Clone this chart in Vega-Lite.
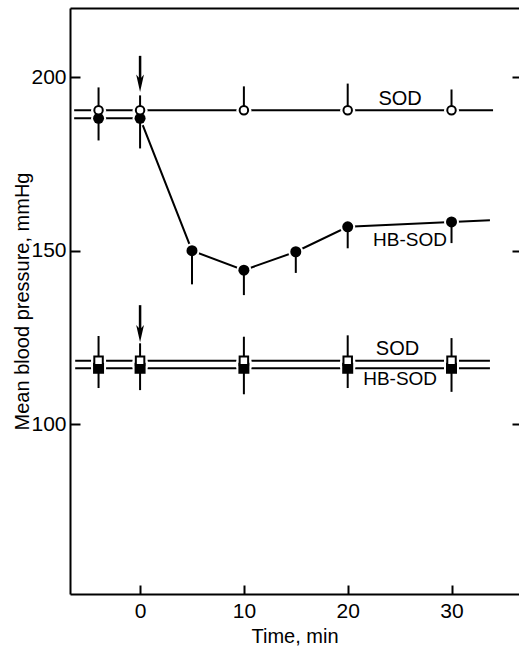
{
  "$schema": "https://vega.github.io/schema/vega-lite/v6.json",
  "autosize": {"type": "none"},
  "padding": {"left": 70, "top": 8, "right": 0, "bottom": 54},
  "width": 449,
  "height": 586,
  "config": {
    "view": {"stroke": null},
    "font": "Liberation Sans",
    "axis": {"grid": false, "domainColor": "black", "tickColor": "black", "labelColor": "black", "titleColor": "black", "domainWidth": 2, "tickWidth": 2}
  },
  "datasets": {
    "pts": [
      {"g": "upper", "a": "SOD", "t": -4, "y": 190.5, "e": 197.1},
      {"g": "upper", "a": "SOD", "t": 0, "y": 190.5, "e": 194.8},
      {"g": "upper", "a": "SOD", "t": 10, "y": 190.5, "e": 197.4},
      {"g": "upper", "a": "SOD", "t": 20, "y": 190.5, "e": 198.2},
      {"g": "upper", "a": "SOD", "t": 30, "y": 190.5, "e": 196.5},
      {"g": "upper", "a": "HB-SOD", "t": -4, "y": 188.2, "e": 181.8},
      {"g": "upper", "a": "HB-SOD", "t": 0, "y": 188.2, "e": 179.5},
      {"g": "upper", "a": "HB-SOD", "t": 5, "y": 150, "e": 140.3},
      {"g": "upper", "a": "HB-SOD", "t": 10, "y": 144.4, "e": 137.2},
      {"g": "upper", "a": "HB-SOD", "t": 15, "y": 149.7, "e": 143.6},
      {"g": "upper", "a": "HB-SOD", "t": 20, "y": 156.9, "e": 150.7},
      {"g": "upper", "a": "HB-SOD", "t": 30, "y": 158.3, "e": 152.2},
      {"g": "lower", "a": "SOD", "t": -4, "y": 118.3, "e": 125.4},
      {"g": "lower", "a": "SOD", "t": 0, "y": 118.3, "e": 123.3},
      {"g": "lower", "a": "SOD", "t": 10, "y": 118.3, "e": 125.2},
      {"g": "lower", "a": "SOD", "t": 20, "y": 118.3, "e": 125.6},
      {"g": "lower", "a": "SOD", "t": 30, "y": 118.3, "e": 124.8},
      {"g": "lower", "a": "HB-SOD", "t": -4, "y": 116.1, "e": 110.4},
      {"g": "lower", "a": "HB-SOD", "t": 0, "y": 116.1, "e": 109.8},
      {"g": "lower", "a": "HB-SOD", "t": 10, "y": 116.1, "e": 108.6},
      {"g": "lower", "a": "HB-SOD", "t": 20, "y": 116.1, "e": 110.4},
      {"g": "lower", "a": "HB-SOD", "t": 30, "y": 116.1, "e": 109.3}
    ],
    "lines": [
      {"s": "upper-SOD", "t": -6.35, "y": 190.5},
      {"s": "upper-SOD", "t": -4, "y": 190.5},
      {"s": "upper-SOD", "t": 0, "y": 190.5},
      {"s": "upper-SOD", "t": 10, "y": 190.5},
      {"s": "upper-SOD", "t": 20, "y": 190.5},
      {"s": "upper-SOD", "t": 30, "y": 190.5},
      {"s": "upper-SOD", "t": 34.0, "y": 190.5},
      {"s": "upper-HB", "t": -6.35, "y": 188.2},
      {"s": "upper-HB", "t": -4, "y": 188.2},
      {"s": "upper-HB", "t": 0, "y": 188.2},
      {"s": "upper-HB", "t": 5, "y": 150},
      {"s": "upper-HB", "t": 10, "y": 144.4},
      {"s": "upper-HB", "t": 15, "y": 149.7},
      {"s": "upper-HB", "t": 20, "y": 156.9},
      {"s": "upper-HB", "t": 30, "y": 158.3},
      {"s": "upper-HB", "t": 33.7, "y": 158.8},
      {"s": "lower-SOD", "t": -6.25, "y": 118.3},
      {"s": "lower-SOD", "t": 33.7, "y": 118.3},
      {"s": "lower-HB", "t": -6.25, "y": 116.1},
      {"s": "lower-HB", "t": 33.7, "y": 116.1}
    ],
    "arrows": [
      {"t": 0, "top": 206.2, "head": 198.3},
      {"t": 0, "top": 134.3, "head": 126.1}
    ],
    "labels": [
      {"t": 25.05, "y": 193.9, "text": "SOD", "k": "a"},
      {"t": 26.0, "y": 153.2, "text": "HB-SOD", "k": "b"},
      {"t": 24.8, "y": 121.6, "text": "SOD", "k": "a"},
      {"t": 25.05, "y": 113.0, "text": "HB-SOD", "k": "b"}
    ]
  },
  "resolve": {"axis": {"x": "independent", "y": "independent"}},
  "layer": [
    {
      "data": {"name": "lines"},
      "mark": {"type": "line", "color": "black", "strokeWidth": 2},
      "encoding": {
        "x": {"field": "t", "type": "quantitative", "scale": {"domain": [-6.75, 36.5], "nice": false, "zero": false},
          "axis": {"orient": "bottom", "values": [0, 10, 20, 30], "title": "Time, min", "tickSize": -9, "labelPadding": 15, "labelFontSize": 21, "titleFontSize": 20, "titleFontWeight": 500, "titleBaseline": "alphabetic", "titleY": 48}},
        "y": {"field": "y", "type": "quantitative", "scale": {"domain": [51, 220], "nice": false, "zero": false},
          "axis": {"orient": "left", "values": [100, 150, 200], "title": "Mean blood pressure, mmHg", "tickSize": -10, "labelPadding": 14, "labelFontSize": 21, "titleFontSize": 20, "titleFontWeight": 500, "titleBaseline": "alphabetic", "titleX": -42, "titleY": 293}},
        "detail": {"field": "s"}
      }
    },
    {
      "data": {"name": "pts"},
      "mark": {"type": "point", "filled": true, "color": "white", "opacity": 1},
      "encoding": {
        "x": {"field": "t", "type": "quantitative", "scale": {"domain": [-6.75, 36.5], "nice": false, "zero": false}, "axis": null},
        "y": {"field": "y", "type": "quantitative", "scale": {"domain": [51, 220], "nice": false, "zero": false}, "axis": null},
        "shape": {"field": "g", "type": "nominal", "scale": {"domain": ["upper", "lower"], "range": ["circle", "square"]}, "legend": null},
        "size": {"value": 225}
      }
    },
    {
      "data": {"name": "pts"},
      "mark": {"type": "rule", "color": "black", "strokeWidth": 2},
      "encoding": {
        "x": {"field": "t", "type": "quantitative", "scale": {"domain": [-6.75, 36.5], "nice": false, "zero": false}, "axis": null},
        "y": {"field": "y", "type": "quantitative", "scale": {"domain": [51, 220], "nice": false, "zero": false}, "axis": null},
        "y2": {"field": "e"}
      }
    },
    {
      "data": {"name": "pts"},
      "transform": [{"filter": "datum.a === 'HB-SOD'"}],
      "mark": {"type": "point", "filled": true, "color": "black", "opacity": 1},
      "encoding": {
        "x": {"field": "t", "type": "quantitative", "scale": {"domain": [-6.75, 36.5], "nice": false, "zero": false}, "axis": null},
        "y": {"field": "y", "type": "quantitative", "scale": {"domain": [51, 220], "nice": false, "zero": false}, "axis": null},
        "shape": {"field": "g", "type": "nominal", "scale": {"domain": ["upper", "lower"], "range": ["circle", "square"]}, "legend": null},
        "size": {"value": 121}
      }
    },
    {
      "data": {"name": "pts"},
      "transform": [{"filter": "datum.a === 'SOD'"}],
      "mark": {"type": "point", "filled": false, "fill": "white", "stroke": "black", "strokeWidth": 2, "opacity": 1},
      "encoding": {
        "x": {"field": "t", "type": "quantitative", "scale": {"domain": [-6.75, 36.5], "nice": false, "zero": false}, "axis": null},
        "y": {"field": "y", "type": "quantitative", "scale": {"domain": [51, 220], "nice": false, "zero": false}, "axis": null},
        "shape": {"field": "g", "type": "nominal", "scale": {"domain": ["upper", "lower"], "range": ["circle", "square"]}, "legend": null},
        "size": {"value": 72}
      }
    },
    {
      "data": {"name": "arrows"},
      "mark": {"type": "rule", "color": "black", "strokeWidth": 2.5},
      "encoding": {
        "x": {"field": "t", "type": "quantitative", "scale": {"domain": [-6.75, 36.5], "nice": false, "zero": false}, "axis": null},
        "y": {"field": "top", "type": "quantitative", "scale": {"domain": [51, 220], "nice": false, "zero": false}, "axis": null},
        "y2": {"field": "head"}
      }
    },
    {
      "data": {"name": "arrows"},
      "mark": {"type": "point", "filled": true, "color": "black", "opacity": 1, "shape": "M-0.45,-1L0,-0.5L0.45,-1L0,1Z", "size": 300},
      "encoding": {
        "x": {"field": "t", "type": "quantitative", "scale": {"domain": [-6.75, 36.5], "nice": false, "zero": false}, "axis": null},
        "y": {"field": "head", "type": "quantitative", "scale": {"domain": [51, 220], "nice": false, "zero": false}, "axis": null}
      }
    },
    {
      "data": {"name": "labels"},
      "mark": {"type": "text", "color": "black", "align": "center", "baseline": "middle", "font": "Liberation Sans"},
      "encoding": {
        "x": {"field": "t", "type": "quantitative", "scale": {"domain": [-6.75, 36.5], "nice": false, "zero": false},
          "axis": {"orient": "top", "ticks": false, "labels": false, "title": null, "domain": true}},
        "y": {"field": "y", "type": "quantitative", "scale": {"domain": [51, 220], "nice": false, "zero": false},
          "axis": {"orient": "right", "values": [100, 150, 200], "domain": false, "labels": false, "title": null, "tickSize": -7}},
        "text": {"field": "text"},
        "size": {"field": "k", "type": "nominal", "scale": {"domain": ["a", "b"], "range": [20, 19]}, "legend": null}
      }
    }
  ]
}
